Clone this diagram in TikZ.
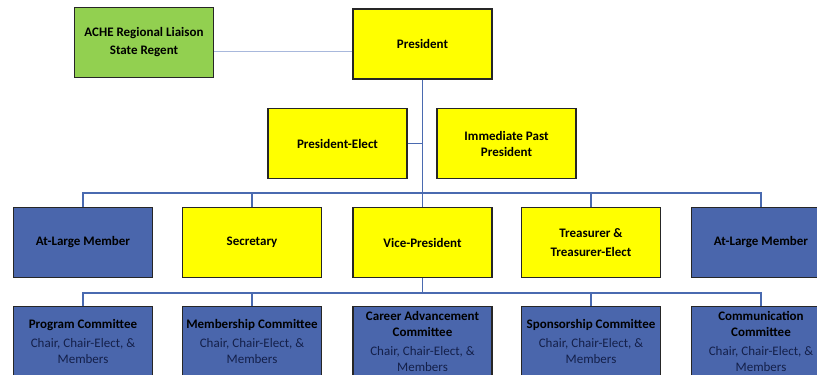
\documentclass[tikz,border=0pt]{standalone}
\usepackage{fontspec}
\setmainfont{Carlito}
\definecolor{ygold}{HTML}{FFFF00}
\definecolor{gfill}{HTML}{92D050}
\definecolor{bfill}{HTML}{4A66AC}
\definecolor{lineblue}{HTML}{4A6AB0}
\definecolor{paleline}{HTML}{A8B8DC}
\definecolor{subnavy}{HTML}{14204A}
\newcommand{\subtx}[1]{{\fontsize{13}{16}\selectfont\mdseries\color{subnavy}#1}}
\begin{document}
\begin{tikzpicture}[x=1pt,y=-1pt,
  box/.style={draw=black!85,line width=1.2pt,minimum width=139pt,minimum height=70pt,inner sep=0.5pt,align=center,font=\fontsize{13}{16}\selectfont\bfseries},
  ybox/.style={box,fill=ygold},
  gbox/.style={box,fill=gfill},
  bbox/.style={box,fill=bfill},
  tree/.style={draw=lineblue,line width=1.3pt}]
\useasboundingbox (0,0) rectangle (817,375);
\clip (0,0) rectangle (817,375);
\node[gbox] (ache) at (144,42.5) {ACHE Regional Liaison\\[2pt]State Regent};
\node[ybox] (pres) at (422.5,44) {President};
\node[ybox] (pe) at (337.5,143.5) {President-Elect};
\node[ybox] (ipp) at (506.5,143.5) {Immediate Past\\President};
\node[bbox] (al1) at (83,242.5) {At-Large Member};
\node[ybox] (sec) at (252,242.5) {Secretary};
\node[ybox] (vp) at (422.5,242.5) {Vice-President};
\node[ybox] (tre) at (591,242.5) {Treasurer \&\\[3pt]Treasurer-Elect};
\node[bbox] (al2) at (761,242.5) {At-Large Member};
\node[bbox] (prog) at (83,341.5) {Program Committee\\[3pt]\subtx{Chair, Chair-Elect, \&}\\\subtx{Members}};
\node[bbox] (memb) at (252,341.5) {Membership Committee\\[3pt]\subtx{Chair, Chair-Elect, \&}\\\subtx{Members}};
\node[bbox] (care) at (422.5,341.5) {Career Advancement\\Committee\\[3pt]\subtx{Chair, Chair-Elect, \&}\\\subtx{Members}};
\node[bbox] (spon) at (591,341.5) {Sponsorship Committee\\[3pt]\subtx{Chair, Chair-Elect, \&}\\\subtx{Members}};
\node[bbox] (comm) at (761,341.5) {Communication\\Committee\\[3pt]\subtx{Chair, Chair-Elect, \&}\\\subtx{Members}};
\coordinate (cl) at (0,51);
\coordinate (b2) at (0,193);
\coordinate (b3) at (0,293);
\draw[draw=paleline,line width=0.9pt] (ache.east |- cl) -- (pres.west |- cl);
\draw[tree] (pres.south) -- (vp.north);
\draw[tree] (pe.east) -- (pe.east -| pres.south);
\draw[tree] (al1.north) -- (al1.north |- b2) -- (al2.north |- b2) -- (al2.north);
\foreach \n in {sec,tre} \draw[tree] (\n.north) -- (\n.north |- b2);
\draw[tree] (vp.south) -- (vp.south |- b3);
\draw[tree] (prog.north) -- (prog.north |- b3) -- (comm.north |- b3) -- (comm.north);
\foreach \n in {memb,spon} \draw[tree] (\n.north) -- (\n.north |- b3);
\end{tikzpicture}
\end{document}
